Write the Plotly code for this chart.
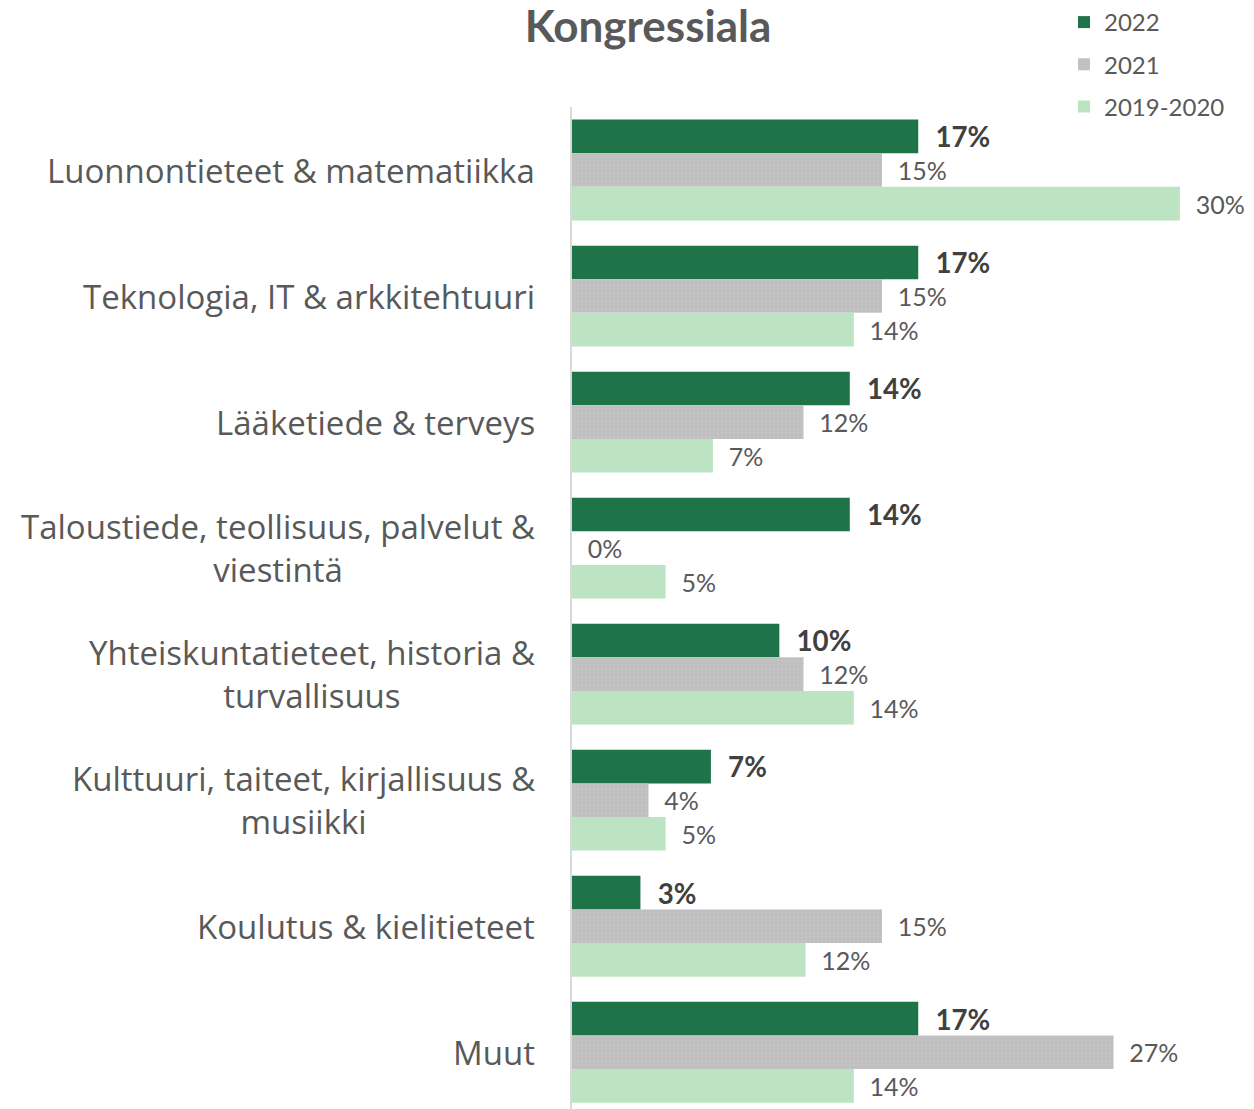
import plotly.graph_objects as go

categories = [
    "Luonnontieteet & matematiikka",
    "Teknologia, IT & arkkitehtuuri",
    "Lääketiede & terveys",
    "Taloustiede, teollisuus, palvelut &<br>viestintä",
    "Yhteiskuntatieteet, historia &<br>turvallisuus",
    "Kulttuuri, taiteet, kirjallisuus &<br>musiikki",
    "Koulutus & kielitieteet",
    "Muut",
]
series_names = ["2022", "2021", "2019-2020"]
values_2022 = [17.2, 17.2, 13.8, 13.8, 10.3, 6.9, 3.4, 17.2]
values_2021 = [15.4, 15.4, 11.5, 0.0, 11.5, 3.8, 15.4, 26.9]
values_2019_2020 = [30.2, 14.0, 7.0, 4.65, 14.0, 4.65, 11.6, 14.0]

colors = ["#1F7349", "#BFBFBF", "#BCE4C3"]
FONT = "Lato"
CAT_FONT = "Open Sans"

W, H = 1254, 1109
ML, MR, MT, MB = 572, 4, 107, 0
plot_w = W - ML - MR
plot_h = H - MT - MB
px_per_pct = 20.13
xmax = plot_w / px_per_pct

fig = go.Figure()
for name, vals, col in zip(series_names, [values_2022, values_2021, values_2019_2020], colors):
    bold = name == "2022"
    marker = dict(color=col, line=dict(width=0))
    if name == "2021":
        marker["pattern"] = dict(shape=".", bgcolor=col, fgcolor="#CACACA", size=4, solidity=0.35)
    fig.add_trace(go.Bar(
        y=categories, x=vals, orientation="h", name=name, legendgroup=name,
        marker=marker,
        texttemplate=("\u00a0\u00a0<b>%{x:.0f}%</b>" if bold else "\u00a0\u00a0%{x:.0f}%"),
        textposition="outside",
        textfont=dict(family=FONT, size=28 if bold else 25, color="#404040" if bold else "#595959"),
        cliponaxis=False,
        hoverinfo="skip",
    ))

# Category labels as centered multi-line annotations
for c in categories:
    fig.add_annotation(
        x=0, xref="paper", xshift=-35, y=c, yref="y",
        text=c, showarrow=False, xanchor="right", yanchor="middle", align="center",
        font=dict(family=CAT_FONT, size=33, color="#595959"),
    )

fig.update_layout(
    width=W, height=H,
    margin=dict(l=ML, r=MR, t=MT, b=MB, pad=0, autoexpand=False),
    paper_bgcolor="white", plot_bgcolor="white",
    barmode="group", bargap=0.2, bargroupgap=0,
    title=dict(text="<b>Kongressiala</b>", x=648 / W, xanchor="center",
               y=1 - 27 / H, yanchor="middle", xref="container", yref="container",
               font=dict(family=FONT, size=44, color="#595959")),
    xaxis=dict(range=[0, xmax], showgrid=False, zeroline=False, showticklabels=False,
               showline=False, fixedrange=True),
    yaxis=dict(categoryorder="array", categoryarray=categories,
               range=[7.45, -0.5], showticklabels=False, showgrid=False, zeroline=False,
               showline=True, linecolor="#D9D9D9", linewidth=2, ticks=""),
    legend=dict(x=(1064 - ML) / plot_w, y=1 + MT / plot_h, xanchor="left", yanchor="top",
                font=dict(family=FONT, size=24, color="#595959"), bgcolor="rgba(0,0,0,0)",
                itemwidth=30, traceorder="grouped", tracegroupgap=8),
    showlegend=True,
)

fig.write_html("out.html", config={"displayModeBar": False},
               post_script="document.body.style.margin='0';")
